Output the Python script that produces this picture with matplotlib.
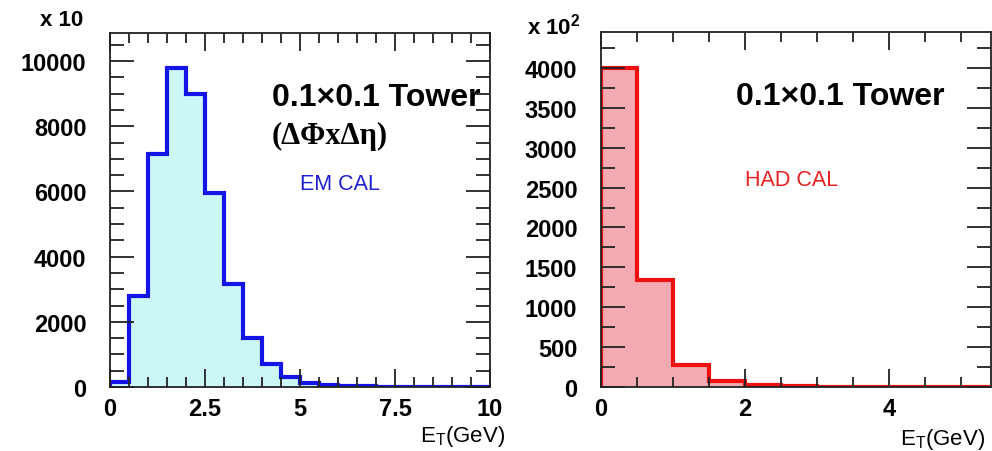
import numpy as np
import matplotlib
matplotlib.use("Agg")
import matplotlib.pyplot as plt
from matplotlib.ticker import MultipleLocator

plt.rcParams['font.family'] = ['Liberation Sans', 'DejaVu Sans']

# EM calorimeter tower E_T histogram (counts in units of 10)
em_edges = np.arange(0, 10.5, 0.5)
em_counts = [150, 2800, 7150, 9800, 9000, 5950, 3150, 1500, 700, 320,
             120, 50, 30, 20, 10, 10, 5, 5, 0, 0]

# HAD calorimeter tower E_T histogram (counts in units of 100)
had_edges = np.arange(0, 6.0, 0.5)
had_counts = [4000, 1340, 270, 70, 25, 10, 5, 5, 0, 0, 0]

em_xticks = [0, 2.5, 5, 7.5, 10]
em_xlabels = ['0', '2.5', '5', '7.5', '10']
had_xticks = [0, 2, 4]


def style_axes(ax, xmajor, xminor, ymajor, yminor):
    ax.xaxis.set_major_locator(MultipleLocator(xmajor))
    ax.xaxis.set_minor_locator(MultipleLocator(xminor))
    ax.yaxis.set_major_locator(MultipleLocator(ymajor))
    ax.yaxis.set_minor_locator(MultipleLocator(yminor))
    ax.tick_params(which='both', direction='in', top=True, right=True,
                   width=1.3, color='#222222')
    ax.tick_params(which='major', length=13)
    ax.tick_params(which='minor', length=7)
    ax.tick_params(axis='x', which='major', pad=7)
    ax.tick_params(axis='y', which='major', length=17, pad=17)
    ax.tick_params(axis='y', which='minor', length=10)
    for s in ax.spines.values():
        s.set_linewidth(1.3)
        s.set_color('#222222')


def bold_labels(ax):
    for lab in ax.get_xticklabels() + ax.get_yticklabels():
        lab.set_fontweight('bold')
        lab.set_fontsize(17)


fig = plt.figure(figsize=(9.92, 4.52), dpi=100)

# left panel
ax1 = fig.add_axes([0.1109, 0.1416, 0.3831, 0.7832])
ax1.stairs(em_counts, em_edges, fill=True, color='#ccf7f7', lw=0)
ax1.stairs(em_counts, em_edges, color='#1414e6', lw=3)
ax1.set_xlim(0, 10)
ax1.set_ylim(0, 10860)
style_axes(ax1, 2.5, 0.5, 2000, 500)
ax1.set_xticks(em_xticks)
ax1.set_xticklabels(em_xlabels)
bold_labels(ax1)
ax1.text(0.426, 0.82, '0.1\u00d70.1 Tower', transform=ax1.transAxes,
         fontsize=23, fontweight='bold', ha='left', va='center')
ax1.text(0.426, 0.71, '(\u0394\u03a6x\u0394\u03b7)', transform=ax1.transAxes,
         fontsize=22, fontweight='bold', family=['Liberation Serif', 'DejaVu Serif'],
         ha='left', va='center')
ax1.text(0.50, 0.575, 'EM CAL', transform=ax1.transAxes, fontsize=15.5,
         color='#2020d0', ha='left', va='center')
fig.text(40 / 992, 1 - 20 / 452, 'x 10', fontsize=16, fontweight='bold',
         ha='left', va='center')
fig.text(420 / 992, 1 - 437 / 452, r'E$_\mathregular{T}$(GeV)', fontsize=16,
         ha='left', va='center')

# right panel
ax2 = fig.add_axes([0.6058, 0.1416, 0.3932, 0.7854])
ax2.stairs(had_counts, had_edges, fill=True, color='#f4aab2', lw=0)
ax2.stairs(had_counts, had_edges, color='#ee1010', lw=3)
ax2.set_xlim(0, 5.417)
ax2.set_ylim(0, 4450)
style_axes(ax2, 2, 0.5, 500, 250)
ax2.set_xticks(had_xticks)
bold_labels(ax2)
ax2.text(0.345, 0.82, '0.1\u00d70.1 Tower', transform=ax2.transAxes,
         fontsize=23, fontweight='bold', ha='left', va='center')
ax2.text(0.37, 0.585, 'HAD CAL', transform=ax2.transAxes, fontsize=15.5,
         color='#e82020', ha='left', va='center')
fig.text(527 / 992, 1 - 27 / 452, r'x 10$^\mathregular{2}$', fontsize=16,
         fontweight='bold', ha='left', va='center')
fig.text(900 / 992, 1 - 440 / 452, r'E$_\mathregular{T}$(GeV)', fontsize=16,
         ha='left', va='center')

fig.savefig('out.png', dpi=100)
